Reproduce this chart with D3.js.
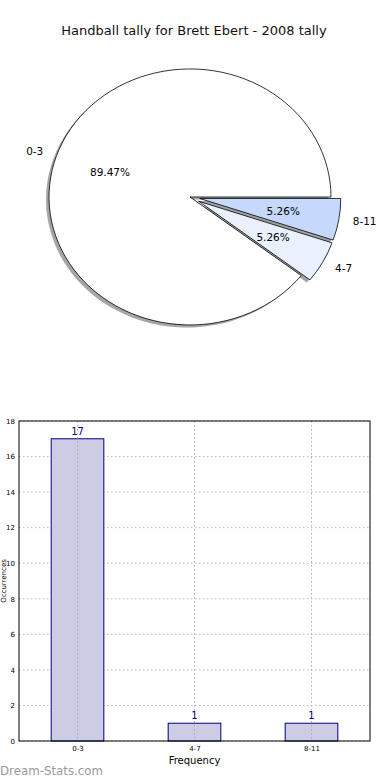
<!DOCTYPE html>
<html>
<head>
<meta charset="utf-8">
<script src="https://cdn.jsdelivr.net/npm/d3@7"></script>
<style>
  body { margin: 0; background: #fff; }
  svg { display: block; font-family: "DejaVu Sans", sans-serif; }
</style>
</head>
<body>
<script>
// data
var categories = ["0-3", "4-7", "8-11"];
var counts = [17, 1, 1];
var sliceColours = ["#ffffff", "#eaf1fe", "#c6d9fd"];
var explode = [0, 0.07, 0.07];
var yTicks = [0, 2, 4, 6, 8, 10, 12, 14, 16, 18];

var svg = d3.select("body")
  .append("svg")
    .attr("width", 390)
    .attr("height", 780);

// title
svg.append("text")
  .attr("x", 194)
  .attr("y", 35)
  .attr("text-anchor", "middle")
  .style("font-size", "13px")
  .style("fill", "#111")
  .text("Handball tally for Brett Ebert - 2008 tally");

/**
 * pie - an ellipse, slices go counter clockwise from 3 o'clock
 */
var cx = 190, cy = 197, rx = 141, ry = 128;
var total = d3.sum(counts);

var pie = d3.pie()
  .sort(null)
  .startAngle(Math.PI / 2)
  .endAngle(Math.PI / 2 - 2 * Math.PI);

var arcs = pie(counts);
var arc = d3.arc().innerRadius(0).outerRadius(1);

// d3 angle -> unit offsets (x right, y down)
function unit(a) {
  return [Math.sin(a), -Math.cos(a)];
}

var pieG = svg.append("g");

arcs.forEach(function(d, i) {
  var mid = (d.startAngle + d.endAngle) / 2;
  var u = unit(mid);
  d.ox = cx + explode[i] * rx * u[0];
  d.oy = cy + explode[i] * ry * u[1];
  d.mid = mid;
});

// shadows first
pieG.selectAll("path.shadow")
  .data(arcs)
  .enter()
  .append("path")
    .attr("class", "shadow")
    .attr("d", arc)
    .attr("transform", function(d) {
      return "translate(" + (d.ox - 3) + "," + (d.oy + 2.6) + ") scale(" + rx + "," + ry + ")";
    })
    .attr("fill", function(d, i) {
      var c = d3.rgb(sliceColours[i]);
      return d3.rgb(c.r * 0.3, c.g * 0.3, c.b * 0.3).toString();
    })
    .attr("fill-opacity", 0.5)
    .attr("stroke", "none");

pieG.selectAll("path.slice")
  .data(arcs)
  .enter()
  .append("path")
    .attr("class", "slice")
    .attr("d", arc)
    .attr("transform", function(d) {
      return "translate(" + d.ox + "," + d.oy + ") scale(" + rx + "," + ry + ")";
    })
    .attr("fill", function(d, i) { return sliceColours[i]; })
    .attr("stroke", "#000")
    .attr("stroke-width", 0.8)
    .attr("vector-effect", "non-scaling-stroke");

// category labels at 1.1 radius
pieG.selectAll("text.label")
  .data(arcs)
  .enter()
  .append("text")
    .attr("class", "label")
    .attr("x", function(d) { return d.ox + 1.1 * rx * unit(d.mid)[0]; })
    .attr("y", function(d) { return d.oy + 1.1 * ry * unit(d.mid)[1]; })
    .attr("dy", "0.35em")
    .attr("text-anchor", function(d) { return unit(d.mid)[0] < 0 ? "end" : "start"; })
    .style("font-size", "10.5px")
    .text(function(d, i) { return categories[i]; });

// percentages at 0.6 radius
pieG.selectAll("text.pct")
  .data(arcs)
  .enter()
  .append("text")
    .attr("class", "pct")
    .attr("x", function(d) { return d.ox + 0.6 * rx * unit(d.mid)[0]; })
    .attr("y", function(d) { return d.oy + 0.6 * ry * unit(d.mid)[1]; })
    .attr("dy", "0.35em")
    .attr("text-anchor", "middle")
    .style("font-size", "10.5px")
    .text(function(d) { return (d.value / total * 100).toFixed(2) + "%"; });

/**
 * bar chart
 */
var margin = {left: 19, right: 20, top: 421, bottom: 39};
var x0 = margin.left, x1 = 390 - margin.right;
var y0 = margin.top, y1 = 780 - margin.bottom;

var x = d3.scaleLinear().domain([-0.5, 2.5]).range([x0, x1]);
var y = d3.scaleLinear().domain([0, 18]).range([y1, y0]);
var barW = 0.45;

var bar = svg.append("g");

// grid
bar.selectAll("line.hgrid")
  .data(yTicks)
  .enter()
  .append("line")
    .attr("x1", x0).attr("x2", x1)
    .attr("y1", function(d) { return y(d); })
    .attr("y2", function(d) { return y(d); })
    .attr("stroke", "#bbb")
    .attr("stroke-width", 1)
    .attr("stroke-dasharray", "1.5,2.5");

bar.selectAll("rect.bar")
  .data(counts)
  .enter()
  .append("rect")
    .attr("class", "bar")
    .attr("x", function(d, i) { return x(i - barW / 2); })
    .attr("width", x(barW) - x(0))
    .attr("y", function(d) { return y(d); })
    .attr("height", function(d) { return y1 - y(d); })
    .attr("fill", "#cccce4")
    .attr("stroke", "#000080")
    .attr("stroke-width", 1);

bar.selectAll("line.vgrid")
  .data(categories)
  .enter()
  .append("line")
    .attr("x1", function(d, i) { return x(i); })
    .attr("x2", function(d, i) { return x(i); })
    .attr("y1", y0).attr("y2", y1)
    .attr("stroke", "#aaa")
    .attr("stroke-width", 1)
    .attr("stroke-dasharray", "1.5,2.5");

// value labels
bar.selectAll("text.value")
  .data(counts)
  .enter()
  .append("text")
    .attr("class", "value")
    .attr("x", function(d, i) { return x(i); })
    .attr("y", function(d) { return y(d) - 4; })
    .attr("text-anchor", "middle")
    .style("font-size", "10px")
    .style("fill", "#000080")
    .text(function(d) { return d; });

// frame
bar.append("rect")
  .attr("x", x0).attr("y", y0)
  .attr("width", x1 - x0).attr("height", y1 - y0)
  .attr("fill", "none")
  .attr("stroke", "#000")
  .attr("stroke-width", 1);

// axes
var yAxis = d3.axisLeft(y).tickValues(yTicks).tickSize(0).tickPadding(4);
bar.append("g")
  .attr("transform", "translate(" + x0 + ",0)")
  .call(yAxis)
  .call(function(g) { g.select(".domain").remove(); })
  .selectAll("text")
    .style("font-size", "7px")
    .style("font-family", "DejaVu Sans");

var xAxis = d3.axisBottom(x).tickValues([0, 1, 2])
  .tickFormat(function(d) { return categories[d]; })
  .tickSize(0).tickPadding(5);
bar.append("g")
  .attr("transform", "translate(0," + y1 + ")")
  .call(xAxis)
  .call(function(g) { g.select(".domain").remove(); })
  .selectAll("text")
    .style("font-size", "7px")
    .style("font-family", "DejaVu Sans");

svg.append("text")
  .attr("x", (x0 + x1) / 2)
  .attr("y", 764)
  .attr("text-anchor", "middle")
  .style("font-size", "10px")
  .text("Frequency");

svg.append("text")
  .attr("transform", "translate(6," + ((y0 + y1) / 2) + ") rotate(-90)")
  .attr("text-anchor", "middle")
  .style("font-size", "7px")
  .text("Occurrences");

// watermark
svg.append("text")
  .attr("x", 0)
  .attr("y", 775)
  .style("font-size", "11.8px")
  .style("fill", "#9a9a9a")
  .text("Dream-Stats.com");
</script>
</body>
</html>
